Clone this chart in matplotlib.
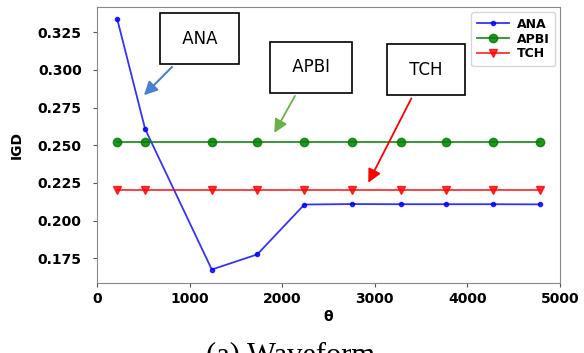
import matplotlib
matplotlib.use('Agg')
import matplotlib.pyplot as plt

theta = [220, 520, 1240, 1730, 2240, 2750, 3280, 3770, 4280, 4780]
ana = [0.3334, 0.2608, 0.1676, 0.1776, 0.2107, 0.2110, 0.2109, 0.2109, 0.2109, 0.2108]
apbi = [0.2520] * len(theta)
tch = [0.2202] * len(theta)

fig = plt.figure(figsize=(5.84, 3.53), dpi=100)
ax = fig.add_axes([0.166, 0.198, 0.793, 0.782])

ax.plot(theta, ana, color='blue', marker='.', markersize=6, lw=1.3, label='ANA', alpha=0.8)
ax.plot(theta, apbi, color='green', marker='o', markersize=6, lw=1.3, label='APBI', alpha=0.85)
ax.plot(theta, tch, color='red', marker='v', markersize=6, lw=1.3, label='TCH', alpha=0.8)

ax.set_xlim(0, 5000)
ax.set_ylim(0.1586, 0.3416)
ax.set_yticks([0.175, 0.200, 0.225, 0.250, 0.275, 0.300, 0.325])
ax.set_xticks([0, 1000, 2000, 3000, 4000, 5000])
for lab in ax.get_xticklabels() + ax.get_yticklabels():
    lab.set_fontweight('bold')
    lab.set_fontsize(10)
ax.tick_params(color='#555555', length=3)
ax.tick_params(axis='y', pad=8)
for s in ax.spines.values():
    s.set_color('#888888')
ax.set_xlabel('θ', fontweight='bold', fontsize=10, labelpad=3)
ax.set_ylabel('IGD', fontweight='bold', fontsize=10, labelpad=10)

leg = ax.legend(loc='upper right', prop={'weight': 'bold', 'size': 9},
                handlelength=2.6, labelspacing=0.15, borderpad=0.45,
                handletextpad=0.6, framealpha=0.8, borderaxespad=0.4)

box = dict(boxstyle='square,pad=1.0', fc='white', ec='black', lw=1.2)
ax.annotate(' ANA ', xy=(486, 0.2818), xytext=(1112, 0.3206), fontsize=12,
            ha='center', va='center', bbox=box,
            arrowprops=dict(arrowstyle='-|>', color='#4a80d0', lw=1.5, mutation_scale=20))
ax.annotate(' APBI ', xy=(1900, 0.2566), xytext=(2311, 0.3017), fontsize=12,
            ha='center', va='center', bbox=box,
            arrowprops=dict(arrowstyle='-|>', color='#6ab04c', lw=1.3, mutation_scale=20))
ax.annotate(' TCH ', xy=(2916, 0.2235), xytext=(3553, 0.3001), fontsize=12,
            ha='center', va='center', bbox=box,
            arrowprops=dict(arrowstyle='-|>', color='red', lw=1.3, mutation_scale=20))

fig.text(0.498, 0.034, '(a) Waveform', family='Liberation Serif', fontsize=22,
         ha='center', va='top')

fig.savefig('out.png', dpi=100)
